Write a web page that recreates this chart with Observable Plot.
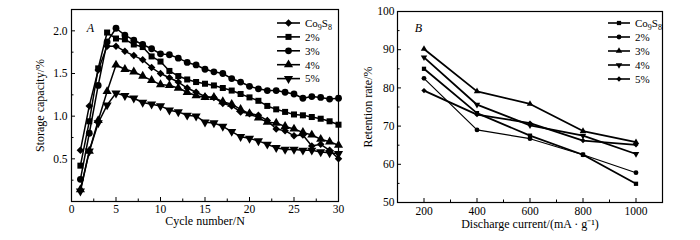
<!DOCTYPE html>
<html><head><meta charset="utf-8">
<script src="https://cdn.jsdelivr.net/npm/d3@7"></script>
<script src="https://cdn.jsdelivr.net/npm/@observablehq/plot@0.6"></script>
<style>
body{margin:0;background:#fff;}
#wrap{display:flex;width:700px;height:240px;}
#wrap svg{display:block;}
</style></head><body><div id="wrap"></div>
<script>
// ---------- Panel A data ----------
const cycles = [1,2,3,4,5,6,7,8,9,10,11,12,13,14,15,16,17,18,19,20,21,22,23,24,25,26,27,28,29,30];
const seriesNames = ["Co9S8","2%","3%","4%","5%"];
const capCo9S8 = [0.60,1.12,1.54,1.82,1.82,1.76,1.71,1.66,1.57,1.50,1.45,1.40,1.33,1.28,1.23,1.22,1.15,1.12,1.05,1.03,1.01,0.95,0.85,0.83,0.77,0.78,0.65,0.67,0.60,0.50];
const cap2 = [0.42,0.94,1.56,1.98,1.91,1.90,1.84,1.81,1.70,1.64,1.53,1.47,1.43,1.40,1.38,1.36,1.33,1.30,1.26,1.22,1.18,1.12,1.08,1.05,1.02,1.01,0.99,0.97,0.94,0.90];
const cap3 = [0.26,0.80,1.36,1.87,2.03,1.95,1.89,1.84,1.79,1.73,1.72,1.68,1.63,1.60,1.55,1.52,1.50,1.44,1.40,1.35,1.32,1.30,1.30,1.28,1.26,1.21,1.23,1.22,1.20,1.21];
const cap4 = [0.14,0.59,0.95,1.29,1.60,1.55,1.52,1.47,1.42,1.37,1.36,1.33,1.28,1.24,1.22,1.22,1.17,1.14,1.08,1.03,0.98,0.93,0.92,0.88,0.85,0.81,0.78,0.73,0.70,0.66];
const cap5 = [0.12,0.59,0.92,1.13,1.27,1.24,1.21,1.16,1.14,1.12,1.07,1.05,1.01,1.00,0.93,0.92,0.88,0.82,0.76,0.74,0.71,0.67,0.63,0.61,0.61,0.60,0.60,0.58,0.57,0.56];
const xTicksA = [0,5,10,15,20,25,30];
const xMinorA = [2.5,7.5,12.5,17.5,22.5,27.5];
const yTicksA = [0.5,1.0,1.5,2.0];
const yMinorA = [0.25,0.75,1.25,1.75];

// ---------- Panel B data ----------
const currents = [200,400,600,800,1000];
const retCo9S8 = [85.0,73.4,67.5,62.5,54.9];
const ret2 = [82.5,69.0,66.7,62.5,57.8];
const ret3 = [90.2,79.1,75.8,68.7,65.8];
const ret4 = [88.0,75.6,70.2,67.5,62.7];
const ret5 = [79.3,73.0,70.8,66.2,65.1];
const xTicksB = [200,400,600,800,1000];
const xMinorB = [300,500,700,900];
const yTicksB = [50,60,70,80,90,100];
const yMinorB = [55,65,75,85,95];

// ---------- symbols ----------
const triDown = {
  draw(ctx, size) {
    const s3 = Math.sqrt(3);
    const y = -Math.sqrt(size / (s3 * 3));
    ctx.moveTo(0, -y * 2);
    ctx.lineTo(-s3 * y, y);
    ctx.lineTo(s3 * y, y);
    ctx.closePath();
  }
};
const symA = [d3.symbolDiamond2, d3.symbolSquare, d3.symbolCircle, d3.symbolTriangle, triDown];
const symB = [d3.symbolSquare, d3.symbolCircle, d3.symbolTriangle, triDown, d3.symbolDiamond2];

const font = "'Liberation Serif','Times New Roman',serif";
const centered = {textAnchor: "middle", lineAnchor: "middle"};

function legend(svg, x0, x1, tx, y0, step, syms, r) {
  const g = d3.select(svg).append("g")
    .attr("font-family", font).attr("font-size", 11).attr("text-anchor", "start");
  seriesNames.forEach((name, i) => {
    const y = y0 + i * step;
    g.append("line").attr("x1", x0).attr("x2", x1).attr("y1", y).attr("y2", y)
      .attr("stroke", "black").attr("stroke-width", 1.6);
    g.append("path").attr("transform", `translate(${(x0 + x1) / 2},${y})`)
      .attr("d", d3.symbol(syms[i], r * r * Math.PI)());
    const t = g.append("text").attr("x", tx).attr("y", y).attr("dy", "0.35em");
    if (name === "Co9S8") {
      t.append("tspan").text("Co");
      t.append("tspan").attr("font-size", 8).attr("dy", 3).text("9");
      t.append("tspan").attr("dy", -3).text("S");
      t.append("tspan").attr("font-size", 8).attr("dy", 3).text("8");
    } else t.text(name);
  });
}

// ---------- Panel A ----------
const dataA = [capCo9S8, cap2, cap3, cap4, cap5];
const mA = {top: 9, right: 12, bottom: 39, left: 71};
const wA = 350 - mA.left - mA.right, hA = 240 - mA.top - mA.bottom;
const marksA = [];
dataA.forEach((vals, i) => {
  const rows = cycles.map((c, j) => ({x: c, y: vals[j]}));
  marksA.push(Plot.line(rows, {x: "x", y: "y", stroke: "black", strokeWidth: 1.5}));
  marksA.push(Plot.dot(rows, {x: "x", y: "y", symbol: symA[i], r: 3.4, fill: "black", stroke: "none"}));
});
const plotA = Plot.plot({
  width: 350, height: 240,
  marginTop: mA.top, marginRight: mA.right, marginBottom: mA.bottom, marginLeft: mA.left,
  style: {fontFamily: font, fontSize: "11px", color: "black", background: "white"},
  x: {domain: [0, 30]},
  y: {domain: [0, 2.25]},
  marks: [
    Plot.axisX({ticks: xTicksA, tickSize: 0, tickPadding: 3, label: null, fontSize: 11.5}),
    Plot.axisY({ticks: yTicksA, tickSize: 0, tickPadding: 4, label: null, tickFormat: d3.format(".1f"), fontSize: 11.5}),
    Plot.tickX(xTicksA, {x: d => d, insetTop: hA - 4, stroke: "black"}),
    Plot.tickX(xMinorA, {x: d => d, insetTop: hA - 2.5, stroke: "black"}),
    Plot.tickY(yTicksA, {y: d => d, insetRight: wA - 4, stroke: "black"}),
    Plot.tickY(yMinorA, {y: d => d, insetRight: wA - 2.5, stroke: "black"}),
    ...marksA,
    Plot.frame({stroke: "black", strokeWidth: 1.2}),
    Plot.text(["Storage capacity/%"], {text: d => d, frameAnchor: "left", dx: -31, rotate: -90, fontSize: 12, ...centered}),
    Plot.text(["Cycle number/N"], {text: d => d, frameAnchor: "bottom", dy: 20, fontSize: 12, ...centered}),
    Plot.text(["A"], {text: d => d, frameAnchor: "top-left", dx: 19, dy: 19, fontStyle: "italic", fontSize: 12, ...centered})
  ]
});
legend(plotA, 277, 300, 305, 23, 13.9, symA, 3.4);

// ---------- Panel B ----------
const dataB = [retCo9S8, ret2, ret3, ret4, ret5];
const widthsB = [1.8, 1.2, 1.8, 1.8, 1.8];
const mB = {top: 11, right: 38, bottom: 38, left: 47};
const wB = 350 - mB.left - mB.right, hB = 240 - mB.top - mB.bottom;
const marksB = [];
dataB.forEach((vals, i) => {
  const rows = currents.map((c, j) => ({x: c, y: vals[j]}));
  marksB.push(Plot.line(rows, {x: "x", y: "y", stroke: "black", strokeWidth: widthsB[i]}));
  marksB.push(Plot.dot(rows, {x: "x", y: "y", symbol: symB[i], r: 2.4, fill: "black", stroke: "none"}));
});
const plotB = Plot.plot({
  width: 350, height: 240,
  marginTop: mB.top, marginRight: mB.right, marginBottom: mB.bottom, marginLeft: mB.left,
  style: {fontFamily: font, fontSize: "11px", color: "black", background: "white"},
  x: {domain: [100, 1100]},
  y: {domain: [50, 100]},
  marks: [
    Plot.axisX({ticks: xTicksB, tickSize: 0, tickPadding: 4, label: null, tickFormat: d3.format("d"), fontSize: 11.5}),
    Plot.axisY({ticks: yTicksB, tickSize: 0, tickPadding: 3, label: null, fontSize: 11.5}),
    Plot.tickX(xTicksB, {x: d => d, insetTop: hB - 4, stroke: "black"}),
    Plot.tickX(xMinorB, {x: d => d, insetTop: hB - 2.5, stroke: "black"}),
    Plot.tickY(yTicksB, {y: d => d, insetRight: wB - 4, stroke: "black"}),
    Plot.tickY(yMinorB, {y: d => d, insetRight: wB - 2.5, stroke: "black"}),
    ...marksB,
    Plot.frame({stroke: "black", strokeWidth: 1.2}),
    Plot.text(["Retention rate/%"], {text: d => d, frameAnchor: "left", dx: -29, rotate: -90, fontSize: 12, ...centered}),
    Plot.text(["Discharge current/(mA · g⁻¹)"], {text: d => d, frameAnchor: "bottom", dy: 22, fontSize: 12, ...centered}),
    Plot.text(["B"], {text: d => d, frameAnchor: "top-left", dx: 21, dy: 17, fontStyle: "italic", fontSize: 12, ...centered})
  ]
});
legend(plotB, 258, 280, 285, 23, 14, symB, 2.4);

document.getElementById("wrap").append(plotA, plotB);
</script>
</body></html>
